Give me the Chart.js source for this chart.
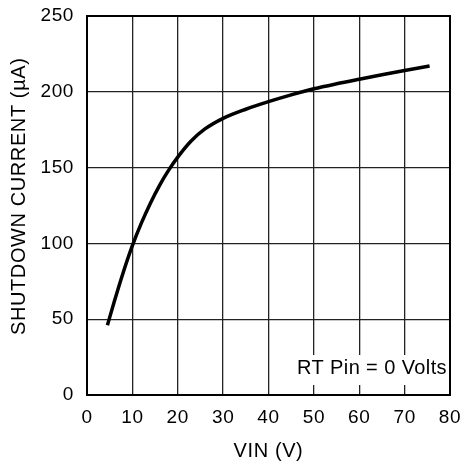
<!DOCTYPE html>
<html>
<head>
<meta charset="utf-8">
<script src="https://cdn.jsdelivr.net/npm/chart.js@4"></script>
<style>
  html, body { margin: 0; padding: 0; background: #fff; }
  #wrap { width: 462px; height: 463px; }
</style>
</head>
<body>
<div id="wrap"><canvas id="grafico" width="462" height="463"></canvas></div>
<script>
// dados
const vin = [4.5, 6, 8, 10, 12, 14, 16, 18, 20, 23, 26, 30, 35, 40, 45, 50, 55, 60, 65, 70, 75.5];
const current = [46, 61.5, 81, 98.5, 113.5, 126.7, 138.3, 148.3, 156.9, 167.7, 175.5, 182.5, 188.5, 193.5, 198, 202, 205.3, 208.3, 211.2, 214, 217];
const xTicks = [0, 10, 20, 30, 40, 50, 60, 70, 80];
const yTicks = [0, 50, 100, 150, 200, 250];
const note = 'RT Pin = 0 Volts';

const fonte = '"Liberation Sans", Arial, sans-serif';

// espaçamento entre letras, o original é um pouco mais largo
const espacamento = {
    id: 'espacamento',
    beforeLayout(chart) { chart.ctx.letterSpacing = '0.6px'; },
    beforeDraw(chart) { chart.ctx.letterSpacing = '0.6px'; }
};

// moldura e nota dentro da área do gráfico
const moldura = {
    id: 'moldura',
    afterDraw(chart) {
        const { ctx, chartArea: a } = chart;
        ctx.save();
        ctx.letterSpacing = '0.4px';
        ctx.font = '20px ' + fonte;
        ctx.textAlign = 'right';
        ctx.textBaseline = 'alphabetic';
        ctx.fillStyle = '#fff';
        ctx.fillRect(a.left + 205, a.bottom - 40, a.right - a.left - 206, 30);
        ctx.fillStyle = '#000';
        ctx.fillText(note, a.right - 3, a.bottom - 21);
        ctx.strokeStyle = '#000';
        ctx.lineWidth = 2;
        ctx.strokeRect(a.left, a.top, a.right - a.left, a.bottom - a.top);
        ctx.restore();
    }
};

const ctx = document.getElementById('grafico').getContext('2d');
new Chart(ctx, {
    type: 'line',
    data: {
        datasets: [{
            data: vin.map((v, i) => ({ x: v, y: current[i] })),
            borderColor: '#000',
            borderWidth: 3.5,
            pointRadius: 0,
            cubicInterpolationMode: 'monotone',
            fill: false
        }]
    },
    options: {
        responsive: false,
        animation: false,
        layout: { padding: { left: 0, right: 12, top: 16, bottom: 0 } },
        plugins: {
            legend: { display: false },
            tooltip: { enabled: false }
        },
        scales: {
            x: {
                type: 'linear',
                min: 0,
                max: 80,
                afterBuildTicks: s => { s.ticks = xTicks.map(v => ({ value: v })); },
                afterFit: s => { s.height = 68; s.paddingLeft = 0; s.paddingRight = 0; },
                grid: { color: '#222', lineWidth: 1.3, drawTicks: false },
                border: { color: '#000', width: 2 },
                ticks: { color: '#000', font: { size: 19, family: fonte }, padding: 11, maxRotation: 0 },
                title: { display: true, text: 'VIN (V)', color: '#000', font: { size: 20, family: fonte }, padding: { top: 5, bottom: 0 } }
            },
            y: {
                min: 0,
                max: 250,
                afterBuildTicks: s => { s.ticks = yTicks.map(v => ({ value: v })); },
                afterFit: s => { s.width = 87; s.paddingTop = 0; s.paddingBottom = 0; },
                grid: { color: '#222', lineWidth: 1.3, drawTicks: false },
                border: { color: '#000', width: 2 },
                ticks: { color: '#000', font: { size: 19, family: fonte }, padding: 13 },
                title: { display: true, text: '   SHUTDOWN CURRENT (µA)', color: '#000', font: { size: 20, family: fonte }, padding: { top: 7, bottom: 0 } }
            }
        }
    },
    plugins: [espacamento, moldura]
});
</script>
</body>
</html>
